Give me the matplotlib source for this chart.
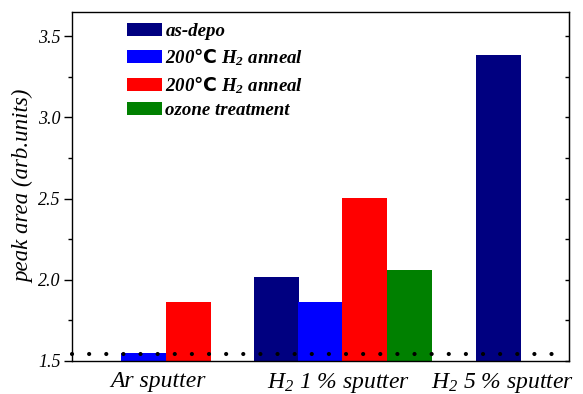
import numpy as np
import matplotlib
matplotlib.use('Agg')
import matplotlib.pyplot as plt

plt.rcParams['font.family'] = ['Liberation Serif', 'Noto Sans CJK SC', 'DejaVu Sans']
plt.rcParams['mathtext.fontset'] = 'custom'
plt.rcParams['mathtext.rm'] = 'Liberation Serif:italic'
plt.rcParams['mathtext.it'] = 'Liberation Serif:italic'
plt.rcParams['mathtext.bf'] = 'Liberation Serif:bold:italic'
plt.rcParams['mathtext.sf'] = 'DejaVu Sans:bold'

# data
series = ['as-depo', '200$\\mathsf{℃}$ $\\mathbf{H_2}$ anneal',
          '200$\\mathsf{℃}$ $\\mathbf{H_2}$ anneal', 'ozone treatment']
colors = ['#000080', '#0000FF', '#FF0000', '#008000']
categories = ['Ar sputter', '$H_2$ 1 % sputter', '$H_2$ 5 % sputter']

asdepo_x = [4.54, 9.47]
asdepo_y = [2.015, 3.382]
h2_blue_x = [1.58, 5.53]
h2_blue_y = [1.547, 1.865]
h2_red_x = [2.58, 6.50]
h2_red_y = [1.865, 2.502]
ozone_x = [7.49]
ozone_y = [2.06]

baseline = 1.54
label_pos = [1.92, 5.93, 9.57]
xmax = 11.04

fig = plt.figure(figsize=(5.83, 3.94), dpi=100)
ax = fig.add_axes([0.1235, 0.0838, 0.8525, 0.8857])

xs = [asdepo_x, h2_blue_x, h2_red_x, ozone_x]
ys = [asdepo_y, h2_blue_y, h2_red_y, ozone_y]
for x, y, c, lab in zip(xs, ys, colors, series):
    ax.bar(x, np.array(y) - 1.5, bottom=1.5, width=1.0, color=c, label=lab, zorder=2)

# dotted reference line
ax.plot([0, xmax - 0.05], [baseline, baseline], color='k', linestyle=(0, (0.01, 4.1)),
        linewidth=3.0, dash_capstyle='round', zorder=3, clip_on=False)

ax.set_xlim(0, xmax)
ax.set_ylim(1.5, 3.648)
yticks = [1.5, 2.0, 2.5, 3.0, 3.5]
ax.set_yticks(yticks)
ax.set_yticklabels(['1.5', '2.0', '2.5', '3.0', '3.5'], fontsize=13, style='italic')
ax.set_yticks(np.arange(1.75, 3.6, 0.5), minor=True)
ax.tick_params(axis='y', which='major', direction='out', length=6, width=1, pad=2)
ax.tick_params(axis='y', which='minor', direction='out', length=3, width=1)

# right side ticks point inwards
sec = ax.secondary_yaxis('right')
sec.set_yticks(yticks)
sec.set_yticks(np.arange(1.75, 3.6, 0.5), minor=True)
sec.tick_params(which='both', direction='in', length=3, width=1, labelright=False)

ax.set_xticks(label_pos)
ax.set_xticklabels(categories, fontsize=17, style='italic')
ax.tick_params(axis='x', length=0, pad=7)

for s in ax.spines.values():
    s.set_linewidth(1.0)

ax.set_ylabel('peak area (arb.units)', fontsize=16.5, style='italic', labelpad=3)

leg = ax.legend(loc='upper left', bbox_to_anchor=(0.095, 0.99), frameon=False,
                prop={'family': ['Liberation Serif', 'Noto Sans CJK SC', 'DejaVu Sans'],
                      'style': 'italic', 'weight': 'bold', 'size': 13.6},
                handlelength=1.85, handleheight=0.7, handletextpad=0.2,
                labelspacing=0.32, borderaxespad=0)

fig.savefig('out.png', dpi=100)
